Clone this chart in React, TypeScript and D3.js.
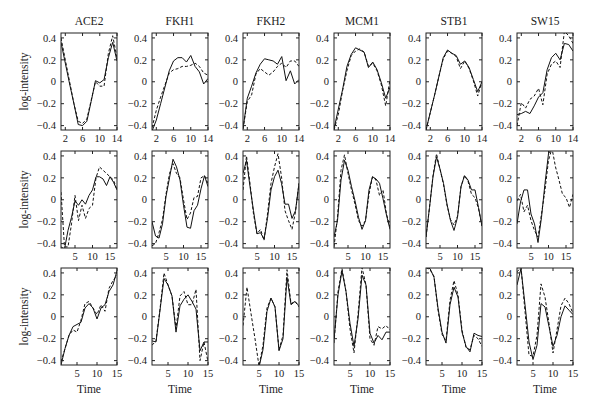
import * as d3 from 'd3';

// gene names (column titles)
const genes = ['ACE2', 'FKH1', 'FKH2', 'MCM1', 'STB1', 'SW15'];

const yTicks = [-0.4, -0.2, 0, 0.2, 0.4];

// time points per experiment (rows)
const time1 = [1, 2, 3, 4, 5, 6, 7, 8, 9, 10, 11, 12, 13, 14];
const time2 = [1, 2, 3, 4, 5, 6, 7, 8, 9, 10, 11, 12, 13, 14, 15, 16, 17];
const time3 = [1, 2, 3, 4, 5, 6, 7, 8, 9, 10, 11, 12, 13, 14, 15];

const xTicks1 = [2, 6, 10, 14];
const xTicks2 = [5, 10, 15];
const xTicks3 = [5, 10, 15];

// row 1 : solid = observed, dashed = fitted
const solid1 = [
  [0.36, 0.17, -0.02, -0.2, -0.39, -0.4, -0.36, -0.18, 0.01, -0.01, 0.02, 0.22, 0.36, 0.19],
  [-0.45, -0.35, -0.2, -0.05, 0.1, 0.19, 0.22, 0.22, 0.18, 0.24, 0.14, 0.09, -0.02, 0.03],
  [-0.43, -0.15, -0.04, 0.08, 0.16, 0.21, 0.2, 0.19, 0.16, 0.23, 0.01, 0.1, -0.02, 0.02],
  [-0.43, -0.25, -0.07, 0.14, 0.25, 0.31, 0.29, 0.27, 0.13, 0.18, 0.11, -0.01, -0.15, -0.05],
  [-0.44, -0.28, -0.12, 0.05, 0.22, 0.29, 0.26, 0.24, 0.16, 0.19, 0.13, 0.02, -0.09, 0.0],
  [-0.3, -0.29, -0.27, -0.29, -0.22, -0.14, -0.1, 0.11, 0.22, 0.26, 0.2, 0.35, 0.34, 0.28],
];
const dashed1 = [
  [0.4, 0.2, 0.0, -0.2, -0.36, -0.38, -0.34, -0.17, 0.0, -0.04, -0.04, 0.26, 0.42, 0.22],
  [-0.42, -0.26, -0.14, -0.03, 0.08, 0.11, 0.12, 0.14, 0.14, 0.15, 0.17, 0.14, 0.08, 0.06],
  [-0.43, -0.18, -0.12, 0.07, 0.12, 0.09, 0.06, 0.09, 0.14, 0.17, 0.13, 0.19, 0.19, 0.14],
  [-0.44, -0.3, -0.08, 0.1, 0.24, 0.28, 0.3, 0.27, 0.14, 0.17, 0.1, -0.03, -0.22, 0.02],
  [-0.44, -0.28, -0.12, 0.05, 0.21, 0.28, 0.26, 0.23, 0.12, 0.19, 0.12, 0.01, -0.13, 0.0],
  [-0.4, -0.19, -0.24, -0.16, -0.13, -0.06, -0.21, 0.07, 0.16, 0.19, 0.13, 0.46, 0.42, 0.35],
];

// row 2
const solid2 = [
  [-0.43, -0.45, -0.28, -0.16, -0.01, -0.05, 0.0, -0.04, 0.04, 0.09, 0.21, 0.21, 0.19, 0.13, 0.21, 0.16, 0.09],
  [-0.2, -0.33, -0.35, -0.22, 0.03, 0.2, 0.37, 0.3, 0.18, -0.05, -0.25, -0.26, -0.1, -0.05, 0.1, 0.22, 0.12],
  [0.24, 0.36, 0.12, -0.1, -0.31, -0.3, -0.36, -0.17, 0.09, 0.21, 0.27, 0.15, -0.04, -0.04, -0.17, -0.1, 0.15],
  [-0.34, -0.19, 0.18, 0.36, 0.27, 0.12, -0.01, -0.16, -0.27, -0.19, 0.09, 0.21, 0.19, 0.15, 0.01, -0.14, -0.27],
  [-0.34, -0.07, 0.21, 0.39, 0.28, 0.15, -0.04, -0.19, -0.28, -0.16, 0.12, 0.22, 0.18, 0.09, 0.09, -0.07, -0.24],
  [-0.22, -0.02, 0.09, 0.09, -0.13, -0.22, -0.39, -0.16, 0.15, 0.42, 0.47],
];
const dashed2 = [
  [0.07, -0.43, -0.43, -0.22, 0.04, -0.19, -0.05, -0.17, -0.08, -0.05, 0.2, 0.3, 0.27, 0.24, 0.21, 0.18, 0.09],
  [-0.42, -0.4, -0.3, -0.18, 0.05, 0.24, 0.33, 0.24, 0.2, 0.0, -0.18, -0.12, 0.02, 0.03, 0.2, 0.22, 0.15],
  [0.09, 0.4, 0.15, -0.13, -0.31, -0.27, -0.37, -0.13, 0.15, 0.3, 0.42, 0.21, -0.1, -0.19, -0.27, -0.11, 0.15],
  [-0.43, -0.16, 0.27, 0.41, 0.24, 0.09, -0.04, -0.19, -0.24, -0.19, 0.05, 0.21, 0.18, 0.04, 0.09, -0.13, -0.25],
  [-0.34, -0.07, 0.22, 0.42, 0.28, 0.14, -0.05, -0.18, -0.23, -0.15, 0.12, 0.22, 0.17, 0.05, 0.02, -0.08, -0.24],
  [-0.01, 0.05, -0.11, -0.05, -0.19, -0.28, -0.34, -0.13, 0.09, 0.36, 0.47, 0.3, 0.18, 0.05, 0.02, -0.07, 0.05],
];

// row 3
const solid3 = [
  [-0.44, -0.29, -0.17, -0.09, -0.07, -0.05, 0.08, 0.12, 0.08, -0.02, 0.08, 0.11, 0.23, 0.29, 0.42],
  [-0.22, -0.23, 0.06, 0.35, 0.29, 0.19, -0.14, 0.1, 0.16, 0.2, 0.14, 0.07, -0.31, -0.23, -0.23],
  [null, null, null, null, -0.46, -0.3, 0.05, 0.17, 0.09, -0.31, -0.2, 0.36, 0.11, 0.14, 0.1],
  [-0.21, 0.2, 0.42, 0.23, -0.06, -0.27, -0.02, 0.38, 0.29, -0.15, -0.24, -0.17, -0.21, -0.14, -0.14],
  [0.45, 0.44, 0.36, 0.08, -0.14, -0.24, 0.11, 0.27, 0.18, -0.14, -0.27, -0.32, -0.15, -0.17, -0.18],
  [0.29, 0.44, 0.11, -0.23, -0.39, -0.26, 0.12, 0.09, -0.09, -0.27, -0.17, 0.0, 0.1, 0.06, 0.02],
];
const dashed3 = [
  [-0.41, -0.29, -0.17, -0.12, -0.14, -0.03, 0.12, 0.14, 0.08, 0.02, 0.11, 0.05, 0.26, 0.33, 0.38],
  [-0.26, -0.22, 0.07, 0.4, 0.29, 0.19, -0.11, 0.19, 0.23, 0.11, 0.11, 0.25, -0.4, -0.23, -0.41],
  [-0.08, 0.27, 0.03, -0.2, -0.45, -0.26, 0.08, 0.17, 0.09, -0.3, -0.17, 0.43, 0.12, 0.14, 0.09],
  [-0.24, 0.23, 0.44, 0.23, -0.11, -0.33, 0.02, 0.45, 0.29, -0.2, -0.26, -0.09, -0.11, -0.08, -0.12],
  [0.45, 0.43, 0.37, 0.06, -0.16, -0.22, 0.15, 0.33, 0.2, -0.12, -0.28, -0.3, -0.17, -0.2, -0.27],
  [0.41, 0.45, 0.05, -0.35, -0.36, -0.17, 0.3, 0.18, -0.06, -0.33, -0.12, 0.1, 0.17, 0.12, 0.03],
];

const rows = [
  { time: time1, ticks: xTicks1, solid: solid1, dashed: dashed1 },
  { time: time2, ticks: xTicks2, solid: solid2, dashed: dashed2 },
  { time: time3, ticks: xTicks3, solid: solid3, dashed: dashed3 },
];

const W = 600;
const H = 416;
const colLeft = [61, 152, 243, 334, 426, 517];
const rowTop = [33, 151, 268];
const pw = 56;
const ph = 97;
const font = "'Liberation Serif', 'DejaVu Serif', serif";
const fmt = d3.format('');

export default function App() {
  const y = d3.scaleLinear().domain([-0.44, 0.445]).range([ph, 0]);

  return (
    <svg width={W} height={H}
      style={{ position: 'absolute', left: 0, top: 0, background: '#fff', fontFamily: font }}>
      <defs>
        <clipPath id="pclip">
          <rect x={0} y={0} width={pw} height={ph} />
        </clipPath>
      </defs>
      {rows.map((row, ri) => {
        const x = d3.scaleLinear()
          .domain(d3.extent(row.time) as [number, number])
          .range([0, pw]);
        const line = d3.line<number | null>()
          .defined(d => d !== null)
          .x((_, i) => x(row.time[i]))
          .y(d => y(d as number));
        return (
          <g key={ri}>
            {ri === 0 && genes.map((g, ci) => (
              <text key={g} x={colLeft[ci] + pw / 2} y={rowTop[0] - 8} textAnchor="middle"
                fontSize={11.5} fill="#222">{g}</text>
            ))}
            <text transform={`translate(${28},${rowTop[ri] + ph / 2}) rotate(-90)`}
              textAnchor="middle" fontSize={11.5} fill="#222">log-intensity</text>
            {genes.map((g, ci) => (
              <g key={g} transform={`translate(${colLeft[ci]},${rowTop[ri]})`}>
                <g clipPath="url(#pclip)">
                  <path d={line(row.solid[ci]) || ''} fill="none" stroke="#111" strokeWidth={1} />
                  <path d={line(row.dashed[ci]) || ''} fill="none" stroke="#111" strokeWidth={1}
                    strokeDasharray="3,2" />
                </g>
                <rect x={0} y={0} width={pw} height={ph} fill="none" stroke="#222" strokeWidth={1} />
                {yTicks.map(t => (
                  <g key={t}>
                    <line x1={0} x2={3} y1={y(t)} y2={y(t)} stroke="#222" />
                    <line x1={pw} x2={pw - 3} y1={y(t)} y2={y(t)} stroke="#222" />
                    <text x={-5} y={y(t)} dy="0.35em" textAnchor="end" fontSize={10.5} fill="#222">
                      {fmt(t)}
                    </text>
                  </g>
                ))}
                {row.ticks.map(t => (
                  <g key={t}>
                    <line x1={x(t)} x2={x(t)} y1={ph} y2={ph - 3} stroke="#222" />
                    <line x1={x(t)} x2={x(t)} y1={0} y2={3} stroke="#222" />
                    <text x={x(t)} y={ph + 12} textAnchor="middle" fontSize={10.5} fill="#222">{t}</text>
                  </g>
                ))}
                {ri === 2 && (
                  <text x={pw / 2} y={ph + 28} textAnchor="middle" fontSize={11.5} fill="#222">Time</text>
                )}
              </g>
            ))}
          </g>
        );
      })}
    </svg>
  );
}
